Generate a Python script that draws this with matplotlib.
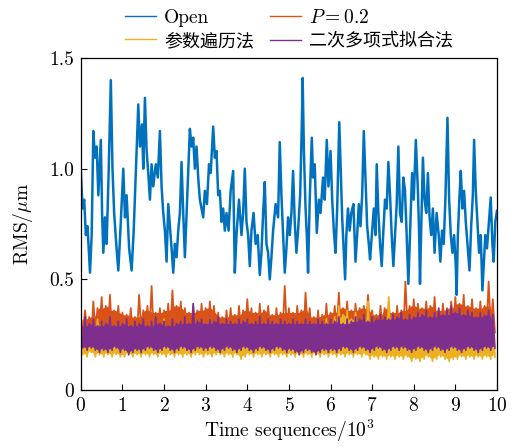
import matplotlib
matplotlib.use('Agg')
import matplotlib.pyplot as plt
import numpy as np

# Fuentes: Computer Modern para el texto latino, CJK como respaldo
plt.rcParams['font.family'] = ['cmr10', 'DejaVu Serif', 'Noto Sans CJK SC']
plt.rcParams['mathtext.fontset'] = 'cm'
plt.rcParams['axes.formatter.use_mathtext'] = True
plt.rcParams['axes.unicode_minus'] = False

# Etiquetas
labels = ['Open', '$P=0.2$', '参数遍历法', '二次多项式拟合法']
colors = ['#0072BD', '#D95319', '#EDB120', '#7E2F8E']
xticks = list(range(0, 11))
yticks = [0, 0.5, 1.0, 1.5]
ytick_labels = ['0', '0.5', '1.0', '1.5']

# Serie "Open" (x en 10^3)
open_x = [0.00, 0.04, 0.08, 0.12, 0.16, 0.22, 0.26, 0.30, 0.34, 0.38, 0.42, 0.48, 0.51, 0.54, 0.58,
          0.62, 0.67, 0.72, 0.76, 0.80, 0.85, 0.90, 0.95, 1.02, 1.06, 1.10, 1.16, 1.22, 1.27, 1.32,
          1.38, 1.42, 1.47, 1.50, 1.54, 1.58, 1.62, 1.66, 1.70, 1.74, 1.80, 1.85, 1.90, 1.94, 1.98,
          2.02, 2.06, 2.10, 2.14, 2.18, 2.22, 2.26, 2.30, 2.34, 2.38, 2.42, 2.46, 2.50, 2.55, 2.62,
          2.66, 2.70, 2.74, 2.78, 2.82, 2.86, 2.90, 2.94, 2.98, 3.03, 3.08, 3.12, 3.18, 3.22, 3.26,
          3.30, 3.34, 3.38, 3.42, 3.46, 3.50, 3.55, 3.60, 3.66, 3.70, 3.74, 3.80, 3.86, 3.90, 3.94,
          3.98, 4.02, 4.06, 4.10, 4.15, 4.20, 4.25, 4.30, 4.34, 4.38, 4.42, 4.46, 4.50, 4.54, 4.58,
          4.62, 4.68, 4.74, 4.78, 4.82, 4.86, 4.90, 4.94, 4.98, 5.02, 5.06, 5.10, 5.14, 5.18, 5.22,
          5.27, 5.31, 5.33, 5.36, 5.40, 5.43, 5.46, 5.50, 5.55, 5.58, 5.62, 5.67, 5.72, 5.76, 5.82,
          5.86, 5.91, 5.95, 6.00, 6.04, 6.08, 6.12, 6.16, 6.21, 6.25, 6.28, 6.31, 6.35, 6.38, 6.42,
          6.46, 6.50, 6.55, 6.60, 6.64, 6.68, 6.72, 6.76, 6.80, 6.84, 6.88, 6.92, 6.95, 7.00, 7.04,
          7.08, 7.11, 7.15, 7.19, 7.23, 7.27, 7.31, 7.35, 7.39, 7.43, 7.47, 7.51, 7.55, 7.59, 7.63,
          7.67, 7.71, 7.75, 7.79, 7.83, 7.87, 7.91, 7.96, 8.00, 8.05, 8.10, 8.13, 8.15, 8.18, 8.22,
          8.26, 8.30, 8.34, 8.38, 8.42, 8.46, 8.50, 8.55, 8.60, 8.64, 8.68, 8.72, 8.76, 8.81, 8.85,
          8.89, 8.93, 8.97, 9.01, 9.03, 9.06, 9.10, 9.13, 9.17, 9.21, 9.25, 9.30, 9.34, 9.38, 9.42,
          9.45, 9.49, 9.53, 9.57, 9.61, 9.65, 9.68, 9.72, 9.76, 9.80, 9.85, 9.89, 9.92, 9.96, 10.00]
open_y = [0.99, 0.82, 0.86, 0.70, 0.74, 0.53, 0.70, 1.17, 1.05, 1.10, 0.88, 1.13, 0.80, 0.62, 0.78,
          0.66, 1.00, 1.40, 1.00, 0.80, 0.66, 0.54, 0.72, 1.00, 0.78, 0.88, 0.64, 0.54, 0.72, 0.98,
          1.29, 1.10, 1.20, 1.00, 1.32, 1.08, 0.98, 0.86, 1.02, 0.92, 1.02, 0.96, 1.17, 0.92, 0.80,
          0.72, 0.58, 0.84, 0.74, 0.64, 0.53, 0.66, 0.60, 0.72, 0.80, 1.03, 0.80, 0.60, 0.84, 1.18,
          1.10, 1.14, 1.00, 1.10, 0.96, 0.86, 0.82, 0.78, 0.90, 0.84, 1.02, 0.98, 1.19, 1.05, 1.08,
          0.88, 0.90, 0.76, 0.82, 0.72, 0.80, 0.72, 0.90, 0.99, 0.53, 0.70, 0.86, 0.70, 0.80, 1.00,
          0.76, 0.70, 0.56, 0.72, 0.80, 0.66, 0.70, 0.52, 0.62, 0.80, 0.94, 0.66, 0.62, 0.50, 0.60,
          0.72, 0.84, 0.78, 1.12, 0.88, 0.70, 0.53, 0.64, 0.78, 0.70, 0.80, 0.99, 0.76, 0.62, 0.72,
          0.88, 1.20, 1.41, 1.08, 0.82, 0.70, 0.53, 0.86, 1.14, 0.96, 1.02, 0.71, 0.86, 0.80, 0.96,
          0.86, 1.13, 0.92, 1.08, 0.86, 0.72, 0.62, 0.82, 1.21, 0.96, 0.78, 0.66, 0.50, 0.70, 0.82,
          0.72, 0.80, 0.84, 0.58, 0.70, 0.84, 0.74, 0.88, 1.17, 0.96, 0.74, 0.66, 0.59, 0.72, 0.82,
          0.70, 1.02, 0.80, 0.66, 0.56, 0.72, 0.86, 0.82, 1.03, 0.88, 0.70, 0.56, 0.70, 0.84, 1.10,
          0.80, 0.76, 0.96, 0.90, 0.70, 0.48, 0.70, 0.98, 0.86, 1.13, 0.90, 0.70, 0.48, 0.74, 1.05,
          0.86, 0.80, 0.98, 0.78, 0.70, 0.82, 0.62, 0.80, 0.70, 0.58, 0.72, 0.66, 0.86, 1.23, 0.86,
          0.70, 0.62, 0.70, 0.56, 0.43, 0.70, 0.88, 0.99, 0.82, 0.90, 0.76, 0.64, 0.54, 0.74, 0.88,
          1.13, 0.90, 0.76, 0.62, 0.70, 0.45, 0.56, 0.70, 0.64, 0.74, 0.87, 0.66, 0.58, 0.76, 0.81]

# Series de banda: máximo y mínimo local cada 0.1 (x 10^3)
band_x = [i / 10 for i in range(100)]

p02_hi = [0.32, 0.36, 0.33, 0.40, 0.37, 0.42, 0.38, 0.43, 0.36, 0.38,
          0.35, 0.34, 0.37, 0.33, 0.43, 0.36, 0.38, 0.47, 0.35, 0.37,
          0.36, 0.39, 0.45, 0.38, 0.40, 0.37, 0.35, 0.38, 0.36, 0.39,
          0.37, 0.40, 0.38, 0.35, 0.33, 0.36, 0.37, 0.34, 0.38, 0.36,
          0.41, 0.37, 0.35, 0.39, 0.36, 0.38, 0.34, 0.37, 0.35, 0.47,
          0.37, 0.35, 0.38, 0.36, 0.44, 0.37, 0.33, 0.36, 0.34, 0.39,
          0.35, 0.38, 0.44, 0.37, 0.40, 0.36, 0.39, 0.37, 0.38, 0.43,
          0.36, 0.34, 0.38, 0.37, 0.40, 0.35, 0.38, 0.36, 0.49, 0.38,
          0.41, 0.39, 0.37, 0.40, 0.38, 0.42, 0.36, 0.39, 0.37, 0.40,
          0.42, 0.39, 0.43, 0.38, 0.41, 0.37, 0.40, 0.38, 0.49, 0.41]
p02_lo = [0.25, 0.27, 0.24, 0.26, 0.28, 0.25, 0.27, 0.24, 0.26, 0.25,
          0.24, 0.26, 0.23, 0.25, 0.27, 0.24, 0.26, 0.25, 0.27, 0.24,
          0.26, 0.25, 0.27, 0.24, 0.26, 0.28, 0.25, 0.26, 0.24, 0.27,
          0.25, 0.26, 0.24, 0.25, 0.23, 0.26, 0.25, 0.24, 0.26, 0.25,
          0.27, 0.25, 0.24, 0.26, 0.25, 0.27, 0.24, 0.25, 0.26, 0.27,
          0.25, 0.24, 0.26, 0.25, 0.27, 0.24, 0.23, 0.25, 0.24, 0.26,
          0.25, 0.27, 0.26, 0.28, 0.26, 0.25, 0.27, 0.26, 0.25, 0.27,
          0.26, 0.24, 0.26, 0.27, 0.25, 0.26, 0.27, 0.25, 0.28, 0.26,
          0.27, 0.26, 0.28, 0.27, 0.26, 0.28, 0.27, 0.26, 0.27, 0.28,
          0.27, 0.28, 0.26, 0.27, 0.28, 0.26, 0.27, 0.28, 0.27, 0.26]

param_hi = [0.27, 0.28, 0.26, 0.29, 0.32, 0.30, 0.27, 0.28, 0.26, 0.27,
            0.26, 0.28, 0.27, 0.25, 0.28, 0.27, 0.26, 0.28, 0.27, 0.29,
            0.32, 0.28, 0.27, 0.26, 0.28, 0.27, 0.29, 0.28, 0.27, 0.28,
            0.30, 0.32, 0.28, 0.27, 0.26, 0.28, 0.27, 0.29, 0.27, 0.28,
            0.27, 0.28, 0.26, 0.28, 0.27, 0.29, 0.27, 0.28, 0.27, 0.28,
            0.27, 0.28, 0.27, 0.29, 0.27, 0.28, 0.30, 0.28, 0.29, 0.32,
            0.30, 0.33, 0.38, 0.34, 0.36, 0.32, 0.35, 0.31, 0.33, 0.40,
            0.30, 0.29, 0.31, 0.30, 0.42, 0.31, 0.29, 0.30, 0.29, 0.31,
            0.30, 0.31, 0.29, 0.30, 0.31, 0.29, 0.30, 0.31, 0.30, 0.29,
            0.30, 0.31, 0.29, 0.30, 0.31, 0.29, 0.30, 0.34, 0.31, 0.30]
param_lo = [0.16, 0.15, 0.17, 0.15, 0.16, 0.15, 0.16, 0.15, 0.16, 0.15,
            0.15, 0.16, 0.15, 0.16, 0.15, 0.16, 0.15, 0.16, 0.15, 0.16,
            0.15, 0.16, 0.15, 0.16, 0.15, 0.16, 0.15, 0.16, 0.16, 0.15,
            0.16, 0.15, 0.16, 0.16, 0.15, 0.16, 0.15, 0.16, 0.14, 0.15,
            0.16, 0.15, 0.16, 0.15, 0.16, 0.15, 0.16, 0.15, 0.16, 0.15,
            0.16, 0.15, 0.16, 0.15, 0.16, 0.15, 0.16, 0.15, 0.16, 0.15,
            0.16, 0.15, 0.16, 0.15, 0.16, 0.15, 0.16, 0.15, 0.16, 0.14,
            0.15, 0.14, 0.15, 0.14, 0.15, 0.14, 0.15, 0.14, 0.15, 0.13,
            0.14, 0.13, 0.14, 0.15, 0.13, 0.14, 0.15, 0.14, 0.13, 0.14,
            0.14, 0.15, 0.14, 0.15, 0.14, 0.15, 0.14, 0.15, 0.14, 0.15]

quad_hi = [0.29, 0.33, 0.30, 0.32, 0.29, 0.31, 0.30, 0.33, 0.29, 0.31,
           0.30, 0.32, 0.29, 0.31, 0.30, 0.32, 0.29, 0.31, 0.33, 0.30,
           0.31, 0.29, 0.32, 0.30, 0.31, 0.33, 0.30, 0.39, 0.31, 0.32,
           0.30, 0.32, 0.31, 0.33, 0.30, 0.32, 0.31, 0.30, 0.32, 0.31,
           0.32, 0.30, 0.31, 0.33, 0.30, 0.32, 0.31, 0.30, 0.32, 0.31,
           0.30, 0.32, 0.31, 0.30, 0.32, 0.31, 0.30, 0.32, 0.31, 0.30,
           0.32, 0.31, 0.33, 0.30, 0.32, 0.31, 0.33, 0.32, 0.34, 0.31,
           0.33, 0.32, 0.34, 0.33, 0.32, 0.34, 0.33, 0.35, 0.32, 0.34,
           0.33, 0.35, 0.34, 0.36, 0.33, 0.35, 0.37, 0.34, 0.36, 0.38,
           0.35, 0.37, 0.34, 0.36, 0.35, 0.33, 0.35, 0.34, 0.36, 0.34]
quad_lo = [0.19, 0.18, 0.19, 0.18, 0.17, 0.18, 0.17, 0.18, 0.19, 0.17,
           0.18, 0.16, 0.17, 0.18, 0.17, 0.18, 0.19, 0.18, 0.17, 0.18,
           0.19, 0.18, 0.17, 0.18, 0.19, 0.18, 0.17, 0.18, 0.19, 0.18,
           0.18, 0.19, 0.18, 0.17, 0.18, 0.19, 0.18, 0.17, 0.18, 0.19,
           0.18, 0.17, 0.18, 0.19, 0.18, 0.17, 0.18, 0.19, 0.18, 0.17,
           0.18, 0.17, 0.16, 0.17, 0.18, 0.17, 0.16, 0.17, 0.18, 0.17,
           0.18, 0.17, 0.18, 0.19, 0.18, 0.17, 0.18, 0.19, 0.18, 0.17,
           0.18, 0.19, 0.18, 0.17, 0.18, 0.19, 0.18, 0.19, 0.18, 0.17,
           0.18, 0.19, 0.18, 0.17, 0.18, 0.19, 0.18, 0.17, 0.18, 0.19,
           0.18, 0.17, 0.18, 0.19, 0.18, 0.17, 0.18, 0.19, 0.18, 0.19]


def zigzag(hi, lo):
    # Alterna máximo y mínimo de cada tramo para dibujar la banda de ruido
    xs, ys = [], []
    for x0, h, l in zip(band_x, hi, lo):
        xs += [x0, x0 + 0.05]
        ys += [h, l]
    return xs, ys


def core(hi, lo):
    # Cuerpo sólido de la banda: mínimo de los máximos vecinos
    hi = np.asarray(hi)
    top = np.minimum(np.minimum(hi, np.roll(hi, 1)), np.roll(hi, -1))
    return np.asarray(band_x) + 0.025, np.asarray(lo) + 0.01, top


fig = plt.figure(figsize=(5.15, 4.47), dpi=100)
ax = fig.add_axes([0.157, 0.1275, 0.808, 0.7427])

handles = []
h, = ax.plot(open_x, open_y, color=colors[0], linewidth=1.8, label=labels[0], zorder=2)
handles.append(h)
series = [(p02_hi, p02_lo), (param_hi, param_lo), (quad_hi, quad_lo)]
for k, ((hi, lo), color, label) in enumerate(zip(series, colors[1:], labels[1:])):
    # cada serie (relleno + trazo) se dibuja encima de la anterior
    z = 3 + 2 * k
    cx, clo, chi = core(hi, lo)
    ax.fill_between(cx, clo, chi, color=color, linewidth=0, zorder=z)
    xs, ys = zigzag(hi, lo)
    h, = ax.plot(xs, ys, color=color, linewidth=1.3, label=label, zorder=z + 1)
    handles.append(h)

ax.set_xlim(0, 10)
ax.set_ylim(0, 1.5)
ax.set_xticks(xticks)
ax.set_yticks(yticks)
ax.set_yticklabels(ytick_labels)
ax.tick_params(direction='in', length=4, labelsize=14, width=0.8, pad=5)
for spine in ax.spines.values():
    spine.set_linewidth(0.9)
    spine.set_zorder(20)

ax.set_xlabel('Time sequences/$10^3$', fontsize=14, labelpad=2)
ax.set_ylabel(r'RMS/$\mu$m', fontsize=14, labelpad=10)

# Orden por filas: Open, P=0.2 / 参数遍历法, 二次多项式拟合法
order = [0, 2, 1, 3]
leg = ax.legend([handles[i] for i in order], [labels[i] for i in order],
                loc='center', bbox_to_anchor=(0.5, 1.087), ncol=2, frameon=False,
                fontsize=14, handlelength=1.6, handletextpad=0.4, columnspacing=0.8,
                labelspacing=0.3, borderpad=0)
for line in leg.get_lines():
    line.set_linewidth(1.0)
# Los caracteres chinos se ven algo más pequeños que el texto latino
for text in leg.get_texts():
    if not text.get_text().isascii():
        text.set_fontsize(13)

fig.savefig('out.png', dpi=100)
